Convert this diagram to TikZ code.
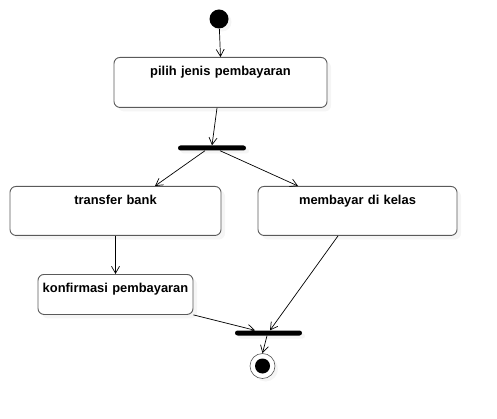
\documentclass[tikz,border=0pt]{standalone}
\usepackage{fontspec}
\setmainfont{Liberation Sans}
\usetikzlibrary{arrows.meta,shadows}

\definecolor{boxline}{HTML}{5A5A5A}

\begin{document}
\begin{tikzpicture}[x=1pt,y=-1pt,
		act/.style={draw=boxline, fill=white, line width=0.9pt, rounded corners=6pt, anchor=north,
			inner xsep=0pt, inner ysep=0pt, align=center, text height=18pt,
			font=\fontsize{12.9}{15}\selectfont\bfseries,
			drop shadow={shadow xshift=4pt, shadow yshift=-4pt, fill=black!8}},
		bar/.style={fill=black, rounded corners=2.5pt, inner sep=0pt,
			minimum width=68pt, minimum height=5pt,
			drop shadow={shadow xshift=3pt, shadow yshift=-3pt, fill=black!8}},
		flow/.style={-{Straight Barb[length=7pt,width=8pt]}, line width=0.7pt}]
		\useasboundingbox (0,0) rectangle (497,419);

		% start and end
		\node[circle, fill=black, minimum size=19pt, inner sep=0pt,
			drop shadow={shadow xshift=3pt, shadow yshift=-3pt, fill=black!8}] (start) at (219,19) {};
		\node[circle, draw=boxline, fill=white, line width=0.6pt, minimum size=25pt, inner sep=0pt,
			drop shadow={shadow xshift=3pt, shadow yshift=-3pt, fill=black!8}] (stop) at (262.5,366) {};
		\fill (stop.center) circle (7.5pt);

		% actions
		\node[act, text width=213pt, text depth=32pt] (pilih) at (220.5,57) {pilih jenis pembayaran};
		\node[act, text width=211pt, text depth=31pt] (transfer) at (115.5,186) {transfer bank};
		\node[act, text width=199pt, text depth=31pt] (kelas) at (357.5,186) {membayar di kelas};
		\node[act, text width=155pt, text depth=22pt] (konfirmasi) at (115.5,274) {konfirmasi pembayaran};

		% fork and join
		\node[bar] (fork) at (212,148) {};
		\node[bar, minimum width=67pt] (join) at (268.5,333) {};

		% flows
		\draw[flow] (start) -- (pilih.north);
		\draw[flow] ([xshift=-3.5pt]pilih.south) -- (fork.north);
		\draw[flow] ([xshift=-7pt]fork.south) -- ([xshift=39.5pt]transfer.north);
		\draw[flow] ([xshift=8pt]fork.south) -- ([xshift=-59.5pt]kelas.north);
		\draw[flow] (transfer.south) -- (konfirmasi.north);
		\draw[flow] (konfirmasi.south east) -- ([xshift=-13.5pt]join.north);
		\draw[flow] ([xshift=-19.5pt]kelas.south) -- ([xshift=1.5pt]join.north);
		\draw[flow] ([xshift=-1.5pt]join.south) -- (stop.north);
	\end{tikzpicture}
\end{document}
